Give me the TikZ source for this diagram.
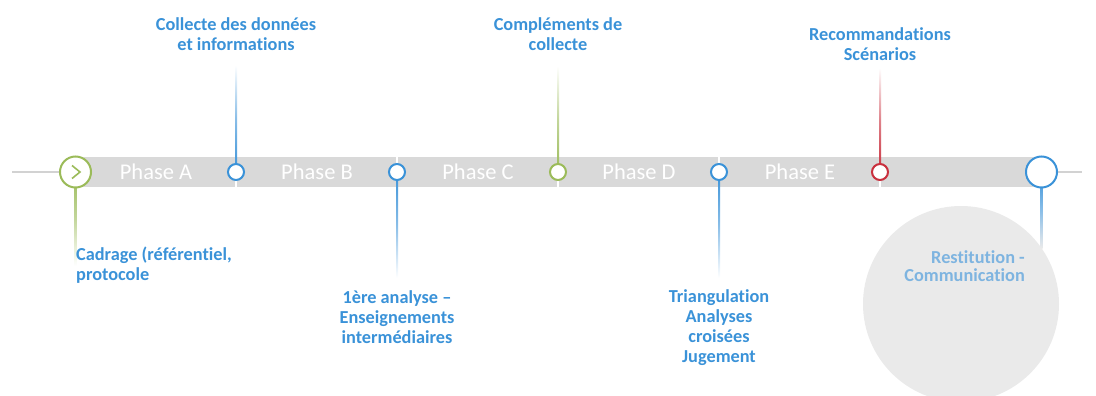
\documentclass[tikz,border=0pt]{standalone}
\usepackage{fontspec}
\setmainfont{Carlito}[Ligatures=NoCommon]
\usetikzlibrary{calc}

\definecolor{barg}{HTML}{D9D9D9}
\definecolor{axisg}{HTML}{D2D2D2}
\definecolor{discg}{HTML}{EAEAEA}
\definecolor{bluec}{HTML}{3A92D8}
\definecolor{greenc}{HTML}{9BBB59}
\definecolor{redc}{HTML}{C9303E}
\definecolor{paleblue}{HTML}{7EB4E0}

\begin{document}
\begin{tikzpicture}[x=1pt,y=-1pt,
  dot/.style={circle, draw=#1, fill=white, line width=2pt, minimum size=16pt, inner sep=0pt},
  bigdot/.style={dot=#1, minimum size=31pt},
  phase/.style={text=white, font=\fontsize{22.5}{22.5}\selectfont},
  lbl/.style={text=bluec, font=\bfseries\fontsize{18.3}{20}\selectfont, align=center, inner sep=0pt},
  ]
  \useasboundingbox (0,0) rectangle (1096,396);
  \clip (0,0) rectangle (1096,396);

  % time axis and phase bar
  \coordinate (axL) at (12,172);
  \coordinate (axR) at (1082,172);
  \draw[axisg, line width=1.5pt] (axL) -- (axR);
  \fill[barg] (75,157) rectangle (1041,187);
  \draw[white, line width=1.5pt] (236,157) -- (236,187);
  \draw[white, line width=1.5pt] (397,157) -- (397,187);
  \draw[white, line width=1.5pt] (558,157) -- (558,187);
  \draw[white, line width=1.5pt] (719,157) -- (719,187);
  \draw[white, line width=1.5pt] (880,157) -- (880,187);

  \node[phase] (phA) at (156,172) {Phase A};
  \node[phase] (phB) at (317,172) {Phase B};
  \node[phase] (phC) at (478,172) {Phase C};
  \node[phase] (phD) at (639,172) {Phase D};
  \node[phase] (phE) at (800,172) {Phase E};

  % restitution disc
  \fill[discg] (961,304) circle (98);

  % stem ends
  \coordinate (sStart) at (75.5,266);
  \coordinate (sA) at (236,65);
  \coordinate (sB) at (397,278);
  \coordinate (sC) at (558,66);
  \coordinate (sD) at (719,278);
  \coordinate (sE) at (880,68);
  \coordinate (sEnd) at (1041.5,248);

  % stems
  \shade[top color=greenc, bottom color=white, middle color=greenc!60] ($(sStart)+(-1,0)$) rectangle ($(75.5,172)+(1,0)$);
  \shade[bottom color=bluec, top color=white, middle color=bluec!60] ($(sA)+(-1,0)$) rectangle ($(236,172)+(1,0)$);
  \shade[top color=bluec, bottom color=white, middle color=bluec!60] ($(sB)+(-1,0)$) rectangle ($(397,172)+(1,0)$);
  \shade[bottom color=greenc, top color=white, middle color=greenc!60] ($(sC)+(-1,0)$) rectangle ($(558,172)+(1,0)$);
  \shade[top color=bluec, bottom color=white, middle color=bluec!60] ($(sD)+(-1,0)$) rectangle ($(719,172)+(1,0)$);
  \shade[bottom color=redc, top color=white, middle color=redc!60] ($(sE)+(-1,0)$) rectangle ($(880,172)+(1,0)$);
  \shade[top color=bluec, bottom color=discg, middle color=bluec!60] ($(sEnd)+(-1,0)$) rectangle ($(1041.5,172)+(1,0)$);

  % milestones
  \node[bigdot=greenc] (mStart) at (75.5,172) {};
  \draw[greenc, line width=1.6pt] (72,165.5) -- (80,172) -- (72,178.5);
  \node[dot=bluec] (mA) at (236,172) {};
  \node[dot=bluec] (mB) at (397,172) {};
  \node[dot=greenc] (mC) at (558,172) {};
  \node[dot=bluec] (mD) at (719,172) {};
  \node[dot=redc] (mE) at (880,172) {};
  \node[bigdot=bluec] (mEnd) at (1041.5,172) {};

  % labels
  \node[lbl, anchor=west, align=left] (lStart) at (76,265) {Cadrage (référentiel,\\protocole};
  \node[lbl] (lA) at (236,34) {Collecte des données\\et informations};
  \node[lbl] (lB) at (397,317) {1ère analyse –\\Enseignements\\intermédiaires};
  \node[lbl] (lC) at (558,34) {Compléments de\\collecte};
  \node[lbl] (lD) at (719,328) {Triangulation\\Analyses\\croisées\\Jugement};
  \node[lbl] (lE) at (880,44) {Recommandations\\Scénarios};
  \node[lbl, text=paleblue, anchor=east, align=right, font=\bfseries\fontsize{18.3}{18}\selectfont] (lEnd) at (1025,266) {Restitution -\\Communication};
\end{tikzpicture}
\end{document}
